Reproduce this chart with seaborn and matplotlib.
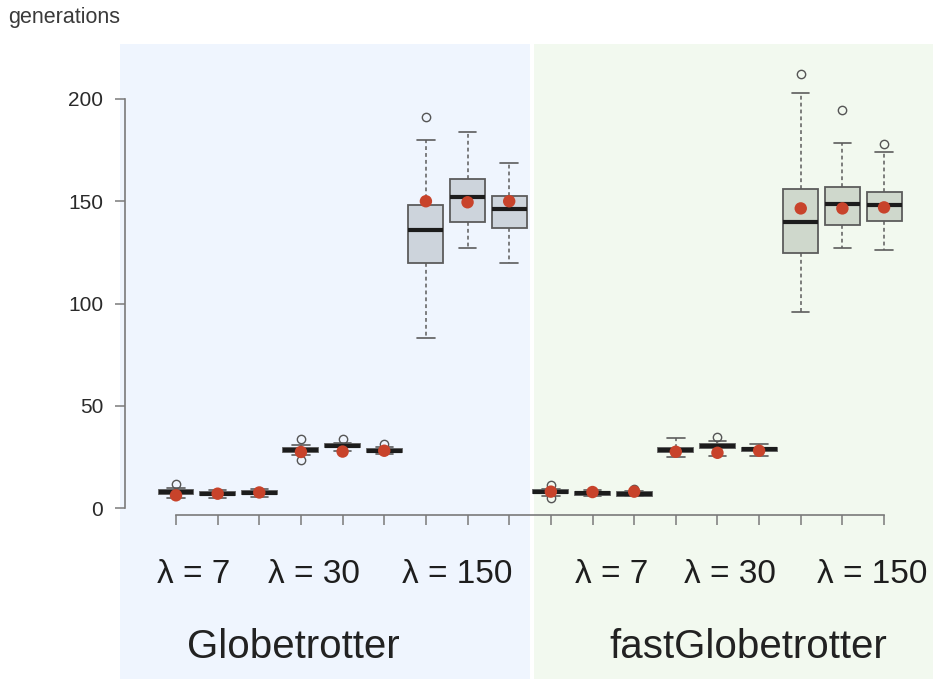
import numpy as np
import pandas as pd
import matplotlib
matplotlib.use("Agg")
import matplotlib.pyplot as plt
from matplotlib.patches import Rectangle
import seaborn as sns

# Two algorithms, three lambda settings each, three runs per setting
algorithms = ["Globetrotter", "fastGlobetrotter"]
lambda_labels = ["λ = 7", "λ = 30", "λ = 150"]

# Box summaries (generations), 18 boxes in plotting order
whislo = [5.0, 5.0, 5.5, 26.0, 28.0, 26.5, 83.0, 127.0, 120.0,
          6.0, 6.0, 5.8, 25.0, 25.6, 25.3, 96.0, 127.0, 126.0]
q1 = [6.8, 6.2, 6.8, 27.5, 29.6, 27.4, 120.0, 140.0, 137.0,
      7.2, 6.4, 6.0, 27.5, 29.5, 27.8, 124.5, 138.5, 140.5]
med = [7.7, 7.0, 7.5, 28.4, 30.5, 28.1, 136.0, 152.0, 146.0,
       8.0, 7.2, 6.8, 28.4, 30.5, 28.7, 140.0, 148.5, 148.0]
q3 = [8.6, 7.8, 8.2, 29.3, 31.2, 28.9, 148.0, 161.0, 152.5,
      8.8, 8.0, 7.6, 29.3, 31.3, 29.5, 156.0, 157.0, 154.5]
whishi = [10.0, 8.8, 9.5, 31.0, 32.0, 30.0, 180.0, 184.0, 168.5,
          9.5, 8.8, 8.5, 34.0, 32.8, 31.4, 203.0, 178.5, 174.0]
fliers = [[11.5], [], [], [23.5, 33.5], [33.5], [31.5], [191.0], [], [],
          [4.7, 11.2], [], [9.5], [], [34.6], [], [212.0], [194.5], [178.0]]
means = [6.2, 7.0, 7.6, 27.4, 27.6, 28.0, 150.0, 149.5, 150.0,
         8.0, 7.8, 8.0, 27.5, 27.0, 28.0, 146.5, 146.5, 147.0]

yticks = [0, 50, 100, 150, 200]

W, H = 933, 679
fig = plt.figure(figsize=(W / 100, H / 100), dpi=100)
sns.set_style("white")
plt.rcParams["font.family"] = ["Liberation Sans", "DejaVu Sans"]

# pixel-to-data mapping for a full-figure axes
x_px0, x_step = 176.0, 41.65
y_px0, y_step = 508.0, 2.045
ax = fig.add_axes([0, 0, 1, 1])
ax.set_xlim((0 - x_px0) / x_step, (W - x_px0) / x_step)
ax.set_ylim((y_px0 - H) / y_step, y_px0 / y_step)
ax.patch.set_alpha(0)

# panel backgrounds
blue_bg, green_bg = "#eff5fe", "#f2f9ef"
fig.add_artist(Rectangle((120 / W, 0), 410 / W, (H - 44) / H,
                         transform=fig.transFigure, facecolor=blue_bg,
                         edgecolor="none", zorder=-5))
fig.add_artist(Rectangle((534 / W, 0), (W - 534) / W, (H - 44) / H,
                         transform=fig.transFigure, facecolor=green_bg,
                         edgecolor="none", zorder=-5))

positions = np.arange(len(med))
stats = []
for i in range(len(med)):
    stats.append(dict(whislo=whislo[i], q1=q1[i], med=med[i], q3=q3[i],
                      whishi=whishi[i], fliers=fliers[i]))

edge = "#5c5c5c"
bp = ax.bxp(stats, positions=positions, widths=0.84, capwidths=0.42,
            patch_artist=True, manage_ticks=False,
            boxprops=dict(edgecolor=edge, linewidth=1.3),
            whiskerprops=dict(color=edge, linestyle=(0, (2.5, 2.0)), linewidth=1.1),
            capprops=dict(color=edge, linewidth=1.2),
            medianprops=dict(color="#1c1c1c", linewidth=3.0),
            flierprops=dict(marker="o", markerfacecolor="none",
                            markeredgecolor="#555555", markersize=6,
                            markeredgewidth=1.0))
box_fill = ["#cdd4dc"] * 9 + ["#cfd8cc"] * 9
for patch, fc in zip(bp["boxes"], box_fill):
    patch.set_facecolor(fc)

# mean markers
mean_df = pd.DataFrame({"position": positions, "mean": means})
sns.scatterplot(data=mean_df, x="position", y="mean", ax=ax, color="#c8432b",
                s=80, edgecolor="none", zorder=6, legend=False)
ax.set_xlabel("")
ax.set_ylabel("")

# axes in R style: detached, bounded to the tick range
for side in ["top", "right"]:
    ax.spines[side].set_visible(False)
ax.spines["left"].set_position(("data", (125 - x_px0) / x_step))
ax.spines["left"].set_bounds(0, 200)
ax.spines["bottom"].set_position(("data", (y_px0 - 515) / y_step))
ax.spines["bottom"].set_bounds(0, len(med) - 1)
for side in ["left", "bottom"]:
    ax.spines[side].set_color("#7a7a7a")
    ax.spines[side].set_linewidth(1.2)

ax.set_yticks(yticks)
ax.set_yticklabels([str(t) for t in yticks])
ax.set_xticks(positions)
ax.set_xticklabels([""] * len(positions))
ax.tick_params(axis="both", direction="out", length=7.2, width=1.1,
               color="#7a7a7a", labelsize=15, labelcolor="#2a2a2a", pad=8.5,
               bottom=True, left=True)

fig.text(8 / W, 1 - 18 / H, "generations", ha="left", va="center",
         fontsize=15.5, color="#3a3a3a")

lambda_x = [0.43, 3.32, 6.76, 10.47, 13.30, 16.72]
for k, xl in enumerate(lambda_x):
    ax.text(xl, (y_px0 - 583) / y_step, lambda_labels[k % 3], ha="center",
            va="baseline", fontsize=24, color="#1e1e1e")

algo_x = [2.81, 13.73]
for name, xa in zip(algorithms, algo_x):
    ax.text(xa, (y_px0 - 658) / y_step, name, ha="center", va="baseline",
            fontsize=29, color="#222222")

fig.savefig("out.png", dpi=100)
